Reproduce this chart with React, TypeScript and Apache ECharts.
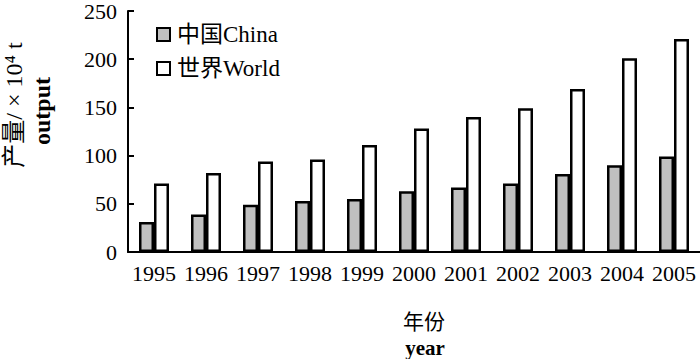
import React, { useEffect, useRef } from "react";
import * as echarts from "echarts";

const years = ["1995", "1996", "1997", "1998", "1999", "2000", "2001", "2002", "2003", "2004", "2005"];
const chinaValues = [31, 39, 49, 53, 55, 63, 67, 71, 81, 90, 99];
const worldValues = [71, 82, 94, 96, 111, 128, 140, 149, 169, 201, 221];
const seriesNames = ["中国China", "世界World"];

const SERIF = "Liberation Serif, Noto Sans CJK SC, serif";

export default function App() {
  const ref = useRef<HTMLDivElement>(null);
  useEffect(() => {
    if (!ref.current) return;
    const chart = echarts.init(ref.current, undefined, { renderer: "svg" });
    const txt = (text: string, x: number, y: number, rot: number, bold: boolean, size: number) => ({
      type: "text",
      x,
      y,
      rotation: rot,
      style: {
        text,
        fontFamily: SERIF,
        fontSize: size,
        fontWeight: bold ? "bold" : "normal",
        fill: "#000",
        align: "center",
        verticalAlign: "middle",
      },
    });
    chart.setOption({
      animation: false,
      backgroundColor: "#ffffff",
      grid: { left: 128, right: 0, top: 9, bottom: 107, containLabel: false },
      legend: {
        orient: "vertical",
        left: 151,
        top: 18,
        itemWidth: 13,
        itemHeight: 13,
        itemGap: 11,
        icon: "rect",
        textStyle: { fontFamily: SERIF, fontSize: 23, color: "#000", padding: [0, 0, 0, 2] },
        data: seriesNames,
      },
      xAxis: {
        type: "category",
        data: years,
        axisLine: { lineStyle: { color: "#000", width: 2 } },
        axisTick: { show: false },
        axisLabel: { interval: 0, fontFamily: SERIF, fontSize: 22, color: "#000", margin: 10 },
      },
      yAxis: {
        type: "value",
        min: 0,
        max: 250,
        interval: 50,
        splitLine: { show: false },
        axisLine: { show: true, lineStyle: { color: "#000", width: 2 } },
        axisTick: { show: true, inside: true, length: 6, lineStyle: { color: "#000", width: 2 } },
        axisLabel: { fontFamily: SERIF, fontSize: 22, color: "#000", margin: 11 },
      },
      graphic: [
        txt("产量/ × 10⁴ t", 14, 105, Math.PI / 2, false, 24),
        txt("output", 42, 111, Math.PI / 2, true, 24),
        txt("年份", 424, 322, 0, false, 21),
        txt("year", 425, 348, 0, true, 21),
      ],
      series: [
        {
          name: seriesNames[0],
          type: "bar",
          data: chinaValues,
          barWidth: 15,
          barGap: "0%",
          itemStyle: { color: "#c0c0c0", borderColor: "#000", borderWidth: 2.5 },
        },
        {
          name: seriesNames[1],
          type: "bar",
          data: worldValues,
          barWidth: 15,
          barGap: "0%",
          itemStyle: { color: "#ffffff", borderColor: "#000", borderWidth: 2.5 },
        },
      ],
    });
    return () => chart.dispose();
  }, []);
  return <div ref={ref} style={{ width: 700, height: 359, position: "absolute", left: 0, top: 0 }} />;
}
